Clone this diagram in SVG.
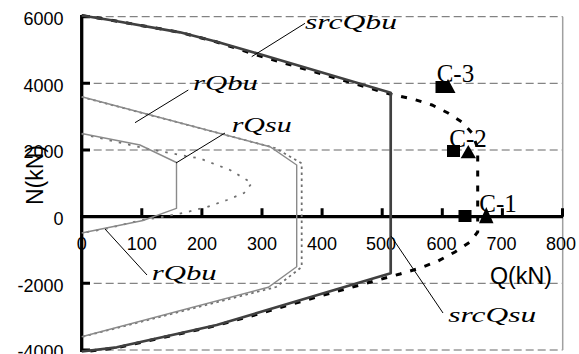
<svg xmlns="http://www.w3.org/2000/svg" width="579" height="354" viewBox="0 0 579 354">
<style>
.tick{font-family:"Liberation Sans",Arial,sans-serif;font-size:18px;fill:#000}
.ytick{text-anchor:end}
.xtick{text-anchor:middle}
.title{font-family:"Liberation Sans",Arial,sans-serif;font-size:23px;fill:#000}
.lab{font-family:"Liberation Serif","Times New Roman",serif;font-style:italic;font-size:22px;fill:#000}
.clab{font-family:"Liberation Serif","Times New Roman",serif;font-size:25px;fill:#000}
.grid{stroke:#666;stroke-width:1;stroke-dasharray:8 4;fill:none}
.leader{stroke:#000;stroke-width:1;fill:none}
.axis{stroke:#000;stroke-width:3.3;fill:none}
.tk{stroke:#000;stroke-width:3;fill:none}
.outer{stroke:#404040;stroke-width:2.7;fill:none;stroke-linejoin:round}
.outerdash{stroke:#000;stroke-width:3;fill:none;stroke-dasharray:6 9}
.inner{stroke:#8a8a8a;stroke-width:1.4;fill:none}
.dot1{stroke:#707070;stroke-width:1.8;fill:none;stroke-dasharray:2.5 3.5}
.dot2{stroke:#707070;stroke-width:1.8;fill:none;stroke-dasharray:2.5 7}
</style>
<rect width="579" height="354" fill="#fff"/>
<g id="grid">
<line class="grid" x1="81.7" y1="16.7" x2="562.7" y2="16.7"/>
<line class="grid" x1="81.7" y1="83.3" x2="562.7" y2="83.3"/>
<line class="grid" x1="81.7" y1="150" x2="562.7" y2="150"/>
<line class="grid" x1="81.7" y1="283.3" x2="562.7" y2="283.3"/>
<line class="grid" x1="81.7" y1="350" x2="562.7" y2="350"/>
<line x1="562.7" y1="16.7" x2="562.7" y2="350" stroke="#a0a0a0" stroke-width="1.5"/>
</g>
<g id="axes">
<line class="axis" x1="81.7" y1="15" x2="81.7" y2="352"/>
<line class="axis" x1="80" y1="216.7" x2="563" y2="216.7"/>
<path class="tk" d="M81.7,16.7H90M81.7,83.3H90M81.7,150H90M81.7,283.3H90M81.7,350H90"/>
<path class="tk" d="M141.8,208.3V216.7M201.9,208.3V216.7M262,208.3V216.7M322.1,208.3V216.7M382.2,208.3V216.7M442.3,208.3V216.7M502.4,208.3V216.7M562.5,208.3V216.7"/>
</g>
<g id="ticklabels">
<text class="tick ytick" x="63.5" y="25">6000</text>
<text class="tick ytick" x="63.5" y="91.7">4000</text>
<text class="tick ytick" x="63.5" y="158.3">2000</text>
<text class="tick ytick" x="63.5" y="225">0</text>
<text class="tick ytick" x="63.5" y="291.7">-2000</text>
<text class="tick ytick" x="63.5" y="358">-4000</text>
<text class="tick xtick" x="81.7" y="250">0</text>
<text class="tick xtick" x="141.8" y="250">100</text>
<text class="tick xtick" x="201.9" y="250">200</text>
<text class="tick xtick" x="262" y="250">300</text>
<text class="tick xtick" x="322.1" y="250">400</text>
<text class="tick xtick" x="381" y="250">500</text>
<text class="tick xtick" x="441.5" y="250">600</text>
<text class="tick xtick" x="501.5" y="250">700</text>
<text class="tick xtick" x="561" y="250">800</text>
<text class="title" x="0" y="0" text-anchor="middle" transform="translate(43,175) rotate(-90)">N(kN)</text>
<text class="title" x="490" y="284" textLength="62" lengthAdjust="spacingAndGlyphs">Q(kN)</text>
</g>
<g id="curves">
<polyline class="dot2" points="81.7,134 148,149 200,158.5 230,170 252,183 244,193 227,200 207,207 183,213 157,218 142,220 105,229 81.7,233"/>
<polyline class="dot1" points="81.7,97 275,148 301.7,163.3 301.7,267 276,287 81.7,337"/>
<polyline class="inner" points="81.7,133.5 140,145 176.5,162.5 176.5,208.3 143,220.5 81.7,233"/>
<polyline class="inner" points="81.7,96.7 270,146.7 296.7,165 296.7,266.7 268.3,287.3 81.7,336.7"/>
<polyline class="outerdash" points="81.7,15.5 110,20 180,32.3 216.7,42 256.7,55 390,94 413,99 432,105 448,113 462,122 472,133 477.7,148 477.7,232 470,242 455,252 438,261 420,268 400,274 387,277.5 320,296 253,315.5 216.7,325.5 180,333.8 116.7,347.8 81.7,352"/>
<polyline class="outer" points="81.7,15.5 110,20 180,32.3 216.7,41.7 256.7,53.3 390.7,92.7 390.7,273.3 216.7,325 180,333.3 116.7,347.3 81.7,351.5"/>
</g>
<g id="leaders">
<line class="leader" x1="305" y1="23.3" x2="251.7" y2="56.7"/>
<line class="leader" x1="188.3" y1="90" x2="135" y2="122.7"/>
<line class="leader" x1="225" y1="133" x2="176" y2="163"/>
<line class="leader" x1="105" y1="229" x2="147" y2="275"/>
<line class="leader" x1="391" y1="236" x2="443" y2="313"/>
</g>
<g id="labels">
<text class="lab" x="305" y="28.5" textLength="92" lengthAdjust="spacingAndGlyphs">srcQbu</text>
<text class="lab" x="193" y="89.5" textLength="65" lengthAdjust="spacingAndGlyphs">rQbu</text>
<text class="lab" x="231.7" y="131.7" textLength="60" lengthAdjust="spacingAndGlyphs">rQsu</text>
<text class="lab" x="151.7" y="280" textLength="65" lengthAdjust="spacingAndGlyphs">rQbu</text>
<text class="lab" x="448.3" y="321.7" textLength="88" lengthAdjust="spacingAndGlyphs">srcQsu</text>
</g>
<g id="C-3">
<rect x="435.5" y="81" width="12.5" height="12" fill="#000"/>
<polygon points="448,79 455.5,93 440.5,93" fill="#000"/>
<text class="clab" x="436.7" y="81.7">C-3</text>
</g>
<g id="C-2">
<rect x="447" y="145" width="13" height="12" fill="#000"/>
<polygon points="468.3,145 476,158.3 460.7,158.3" fill="#000"/>
<text class="clab" x="449.3" y="146.7">C-2</text>
</g>
<g id="C-1">
<rect x="458.5" y="210" width="13" height="12" fill="#000"/>
<polygon points="486.3,207 493.5,223.3 479,223.3" fill="#000"/>
<text class="clab" x="479.3" y="211.7">C-1</text>
</g>
</svg>
